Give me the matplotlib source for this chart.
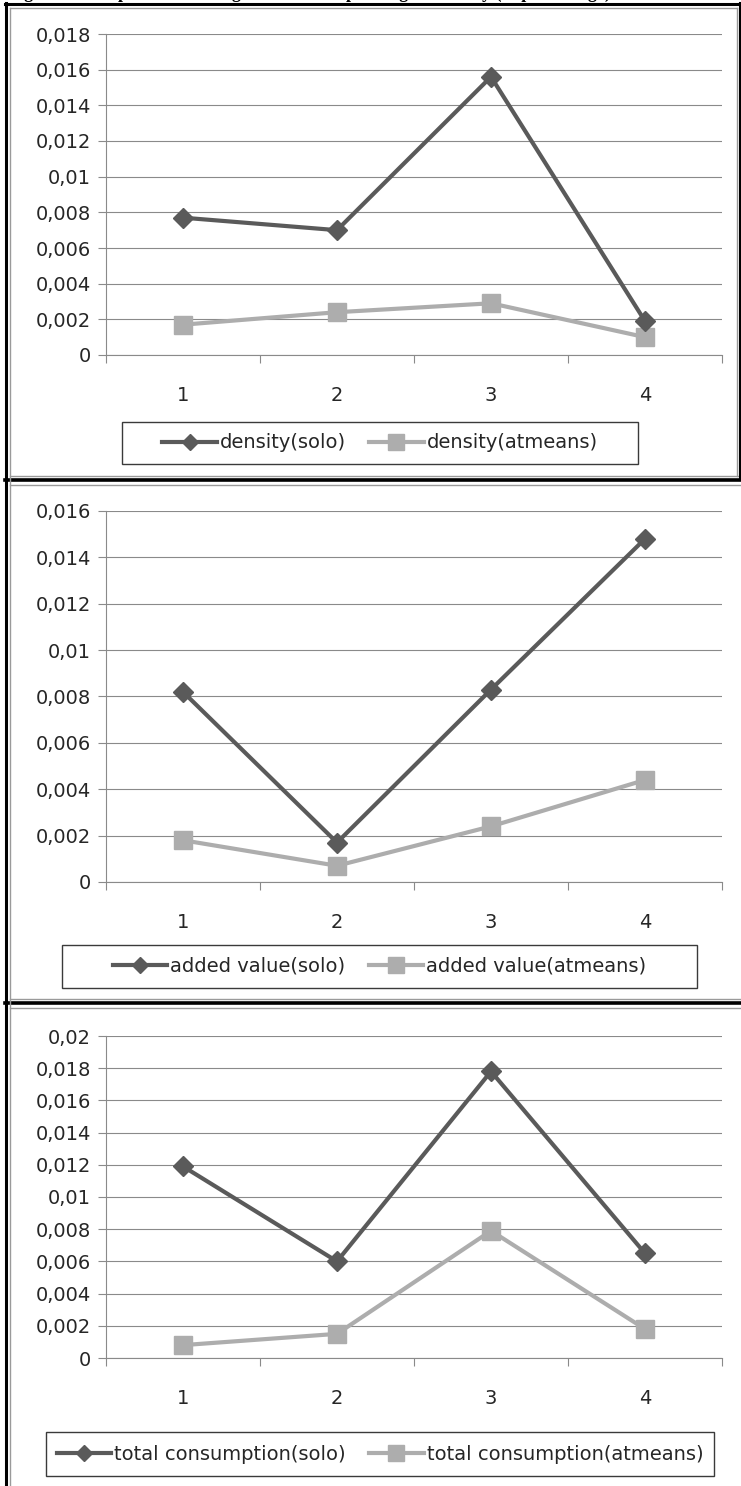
import numpy as np
import matplotlib
matplotlib.use("Agg")
import matplotlib.pyplot as plt
from matplotlib.lines import Line2D
from matplotlib.patches import Rectangle
from matplotlib.ticker import FuncFormatter

# data
categories = [1, 2, 3, 4]

density_solo = [0.0077, 0.0070, 0.0156, 0.0019]
density_atmeans = [0.0017, 0.0024, 0.0029, 0.0010]

added_solo = [0.0082, 0.0017, 0.0083, 0.0148]
added_atmeans = [0.0018, 0.0007, 0.0024, 0.0044]

total_solo = [0.0119, 0.0060, 0.0178, 0.0065]
total_atmeans = [0.0008, 0.0015, 0.0079, 0.0018]

density_labels = ["density(solo)", "density(atmeans)"]
added_labels = ["added value(solo)", "added value(atmeans)"]
total_labels = ["total consumption(solo)", "total consumption(atmeans)"]

y_tops = [0.018, 0.016, 0.02]

title = "Figure 5. Comparison of marginal effects depending on density (in percentage)"

W, H = 741, 1486
DARK = "#5a5a5a"
LIGHT = "#adadad"
GRID = "#8a8a8a"
TXT = "#262626"

plt.rcParams["font.family"] = ["DejaVu Sans"]
plt.rcParams["font.size"] = 14


def fx(x):
    return x / W


def fy(y):
    return 1 - y / H


def comma(v, pos):
    return f"{round(v, 4):g}".replace(".", ",")


def hline(fig, x0, x1, y, color, lw):
    fig.add_artist(Line2D([fx(x0), fx(x1)], [fy(y), fy(y)], color=color,
                          lw=lw, transform=fig.transFigure))


def vline(fig, x, y0, y1, color, lw):
    fig.add_artist(Line2D([fx(x), fx(x)], [fy(y0), fy(y1)], color=color,
                          lw=lw, transform=fig.transFigure))


def panel(fig, top, bottom, ymax, solo, atmeans, labels, box):
    ax = fig.add_axes([fx(106), fy(bottom), (722 - 106) / W, (bottom - top) / H])
    l1, = ax.plot(categories, solo, color=DARK, lw=3, marker="D", ms=10,
                  mec=DARK, mfc=DARK, zorder=4, clip_on=False)
    l2, = ax.plot(categories, atmeans, color=LIGHT, lw=3, marker="s", ms=13,
                  mec=LIGHT, mfc=LIGHT, zorder=3, clip_on=False)

    ax.set_xlim(0.5, 4.5)
    ax.set_ylim(0, ymax)
    ax.set_yticks(np.arange(0, ymax + 1e-9, 0.002))
    ax.yaxis.set_major_formatter(FuncFormatter(comma))
    ax.set_xticks(categories)
    ax.set_xticks(np.arange(0.5, 4.6, 1), minor=True)
    ax.tick_params(axis="x", which="major", length=0, pad=22,
                   labelcolor=TXT)
    ax.tick_params(axis="x", which="minor", length=6, width=0.8,
                   color=GRID, direction="out")
    ax.tick_params(axis="y", length=6, width=0.8, color=GRID, pad=5,
                   labelcolor=TXT)
    ax.grid(axis="y", color=GRID, lw=0.8)
    ax.set_axisbelow(True)
    for side in ["top", "right"]:
        ax.spines[side].set_visible(False)
    for side in ["left", "bottom"]:
        ax.spines[side].set_color(GRID)
        ax.spines[side].set_linewidth(0.8)
    ax.patch.set_alpha(0)

    # legend frame drawn separately, Excel style
    x0, y0, x1, y1 = box
    fig.add_artist(Rectangle((fx(x0), fy(y1)), (x1 - x0) / W, (y1 - y0) / H,
                             fill=False, ec="#3a3a3a", lw=1,
                             transform=fig.transFigure))
    fig.legend([l1, l2], labels, loc="center", ncol=2,
               bbox_to_anchor=(fx((x0 + x1) / 2), fy((y0 + y1) / 2)),
               bbox_transform=fig.transFigure, frameon=False,
               handlelength=2.8, handletextpad=0.15, columnspacing=1.2,
               markerscale=0.85, fontsize=14, labelcolor=TXT)
    return ax


fig = plt.figure(figsize=(W / 100, H / 100), dpi=100)

# caption of the page, cut off by the top edge as in the source scan
fig.text(fx(8), fy(-2), title, family="Liberation Serif", weight="bold",
         fontsize=13, va="baseline", ha="left", color="black")

panel(fig, 34, 355, y_tops[0], density_solo, density_atmeans,
      density_labels, (122, 422, 638, 464))
panel(fig, 511, 882, y_tops[1], added_solo, added_atmeans,
      added_labels, (62, 945, 697, 988))
panel(fig, 1036, 1358, y_tops[2], total_solo, total_atmeans,
      total_labels, (46, 1432, 714, 1476))

# table borders and chart-area borders
hline(fig, 5, W, 4, "black", 2.2)
hline(fig, 10, 737, 8, "#9a9a9a", 1)
for y in [480, 1003]:
    hline(fig, 5, W, y, "black", 2.6)
    hline(fig, 10, W, y - 4, "#9a9a9a", 1)
    hline(fig, 10, W, y + 5, "#9a9a9a", 1)
vline(fig, 6, 3, H, "black", 2.2)
vline(fig, 10, 8, H, "#9a9a9a", 1)
vline(fig, 737, 8, 476, "#9a9a9a", 1)
vline(fig, 740, 3, 480, "black", 1.5)

fig.savefig("out.png", dpi=100, facecolor="white")
